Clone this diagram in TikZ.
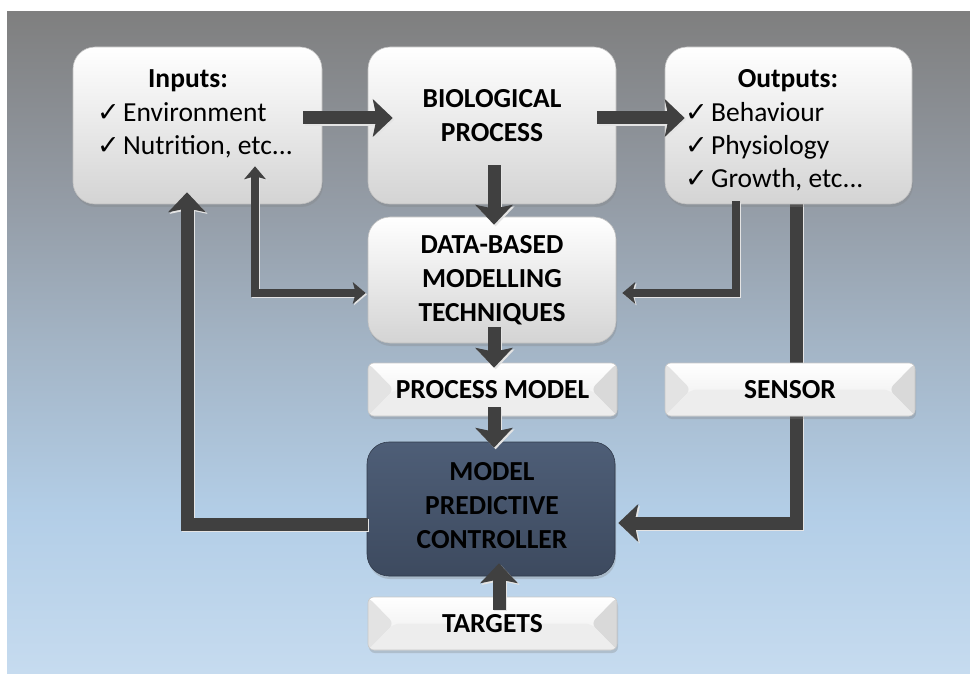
\documentclass[tikz,border=0pt]{standalone}
\usepackage{fontspec}
\setmainfont{Carlito}
\newfontfamily\symfont{DejaVu Sans}
\usetikzlibrary{calc,arrows.meta,shadows}

% background gradient: light blue at the bottom, grey at the top
\definecolor{bgB}{HTML}{C6DBEF}
\definecolor{bgL}{HTML}{B3CEE7}
\definecolor{bgM}{HTML}{A3B4C5}
\definecolor{bgU}{HTML}{9299A2}
\definecolor{bgT}{HTML}{7F7F7F}
\pgfdeclareverticalshading{backdrop}{100bp}{%
  color(0bp)=(bgB); color(25bp)=(bgB); color(37bp)=(bgL);
  color(50bp)=(bgM); color(62bp)=(bgU); color(75bp)=(bgT); color(100bp)=(bgT)}

\definecolor{arrowgray}{HTML}{404040}
\definecolor{hilite}{HTML}{E4E4E4}
\definecolor{mpcTop}{HTML}{4E5E77}
\definecolor{mpcBot}{HTML}{3D4A5F}

\pgfdeclarelayer{back}
\pgfdeclarelayer{under}
\pgfdeclarelayer{front}
\pgfsetlayers{back,under,main,front}

% check mark followed by the item text
\newcommand{\ck}{\makebox[26pt][l]{\symfont\fontsize{27}{27}\selectfont ✓}}

\tikzset{
  bigbox/.style={rectangle, rounded corners=22pt, inner sep=0pt,
    top color=white, bottom color=black!17, draw=black!25, line width=0.6pt,
    drop shadow={shadow xshift=1pt, shadow yshift=-3pt, opacity=0.3}},
  flatbox/.style={rectangle, rounded corners=6pt, inner sep=0pt,
    minimum width=249pt, minimum height=53pt,
    top color=white, bottom color=black!8, draw=black!22, line width=0.6pt,
    drop shadow={shadow xshift=1pt, shadow yshift=-3pt, opacity=0.3},
    path picture={
      \fill[black!11] (path picture bounding box.north west)
        -- ($(path picture bounding box.west)+(26,0)$)
        -- (path picture bounding box.south west) -- cycle;
      \fill[black!15] (path picture bounding box.north east)
        -- ($(path picture bounding box.east)+(-26,0)$)
        -- (path picture bounding box.south east) -- cycle;
      \fill[black!7] (path picture bounding box.south west)
        -- ($(path picture bounding box.west)+(26,0)$)
        -- ($(path picture bounding box.east)+(-26,0)$)
        -- (path picture bounding box.south east) -- cycle;
    }},
  ctrlbox/.style={rectangle, rounded corners=22pt, inner sep=0pt,
    top color=mpcTop, bottom color=mpcBot, draw=mpcBot!80!black, line width=0.6pt,
    minimum width=248pt, minimum height=134pt,
    drop shadow={shadow xshift=1pt, shadow yshift=-3pt, opacity=0.3}},
  lbl/.style={font=\bfseries\fontsize{27.5}{34}\selectfont, align=center, inner sep=0pt},
  item/.style={font=\fontsize{27.5}{33}\selectfont, anchor=base west, inner sep=0pt},
  head/.style={font=\bfseries\fontsize{27.5}{33}\selectfont, anchor=base, inner sep=0pt},
  fatarrow/.style={draw=arrowgray, line width=13pt,
    -{Stealth[length=20pt,width=38pt,inset=4pt,line width=0pt]},
    preaction={draw=hilite, line width=13pt,
      -{Stealth[length=20pt,width=38pt,inset=4pt,line width=0pt]},
      transform canvas={shift={(1.6pt,-1.6pt)}}}},
  thinarrow/.style={draw=arrowgray, line width=8pt,
    preaction={draw=hilite, line width=8pt,
      transform canvas={shift={(1.3pt,-1.3pt)}}}},
  thinhead/.tip={Stealth[length=13pt,width=22pt,inset=3pt,line width=0pt]},
}

\begin{document}
\begin{tikzpicture}[x=1pt,y=-1pt]
  \useasboundingbox (0,0) rectangle (970,674);

  \begin{pgfonlayer}{back}
    \fill[white] (0,0) rectangle (970,674);
    \shade[shading=backdrop] (7,12) rectangle (970,673);
  \end{pgfonlayer}

  % boxes
  \node[bigbox, minimum width=249pt, minimum height=157pt] (inputs)  at (197.5,125.5) {};
  \node[bigbox, minimum width=248pt, minimum height=157pt] (bio)     at (492,125.5) {};
  \node[bigbox, minimum width=247pt, minimum height=157pt] (outputs) at (788.5,125.5) {};
  \node[bigbox, minimum width=248pt, minimum height=126pt] (data)    at (492,280) {};
  \node[flatbox] (pmodel)  at (492.5,389.5) {};
  \node[flatbox, minimum width=250pt] (sensor) at (790,389.5) {};
  \node[ctrlbox] (mpc)     at (491,509) {};
  \node[flatbox] (targets) at (492.5,623.5) {};

  % box texts
  \node[head] (inT) at (188,88) {Inputs:};
  \node[item] (in1) at (97,122) {\ck Environment};
  \node[item] (in2) at (97,155) {\ck Nutrition, etc...};

  \node[head] (outT) at (788,88) {Outputs:};
  \node[item] (out1) at (685,122) {\ck Behaviour};
  \node[item] (out2) at (685,155) {\ck Physiology};
  \node[item] (out3) at (685,188) {\ck Growth, etc...};

  \node[lbl] (bioT)  at ($(bio)+(0,-10)$) {BIOLOGICAL\\PROCESS};
  \node[lbl] (dataT) at ($(data)+(0,0)$) {DATA-BASED\\MODELLING\\TECHNIQUES};
  \node[lbl] (pmT)   at ($(pmodel)+(0,0)$) {PROCESS MODEL};
  \node[lbl] (seT)   at ($(sensor)+(0,0)$) {SENSOR};
  \node[lbl] (mpcT)  at ($(mpc)+(1,-3)$) {MODEL\\PREDICTIVE\\CONTROLLER};
  \node[lbl] (taT)   at ($(targets)+(0,0)$) {TARGETS};

  % feedback from the outputs to the controller passes behind the sensor box
  \begin{pgfonlayer}{under}
    \draw[fatarrow] ($(outputs.south)+(7.5,-4)$) |- ($(mpc.east)+(3,14)$);
  \end{pgfonlayer}

  \begin{pgfonlayer}{front}
    \draw[fatarrow] ($(inputs.east)+(-19,-7.5)$) -- ($(bio.west)+(25,-7.5)$);
    \draw[fatarrow] ($(bio.east)+(-19,-7.5)$) -- ($(outputs.west)+(20,-7.5)$);
    \draw[fatarrow] ($(bio.south)+(2,-39)$) -- ($(data.north)+(2,8)$);
    \draw[fatarrow] ($(data.south)+(2,-16)$) -- ($(pmodel.north)+(1.5,5)$);
    \draw[fatarrow] ($(pmodel.south)+(1.5,-9)$) -- ($(mpc.north)+(3,6)$);
    \draw[fatarrow] ($(targets.north)+(6.5,13)$) -- ($(mpc.south)+(8,-13)$);
    \draw[fatarrow] ($(mpc.west)+(1,15)$) -| ($(inputs.south)+(-10.5,-12)$);
    \draw[thinarrow, thinhead-thinhead] ($(inputs.south)+(57.5,-38)$) |- ($(data.west)+(-2,13)$);
    \draw[thinarrow, -thinhead] ($(outputs.south)+(-53,-3)$) |- ($(data.east)+(6,13)$);
  \end{pgfonlayer}
\end{tikzpicture}
\end{document}
